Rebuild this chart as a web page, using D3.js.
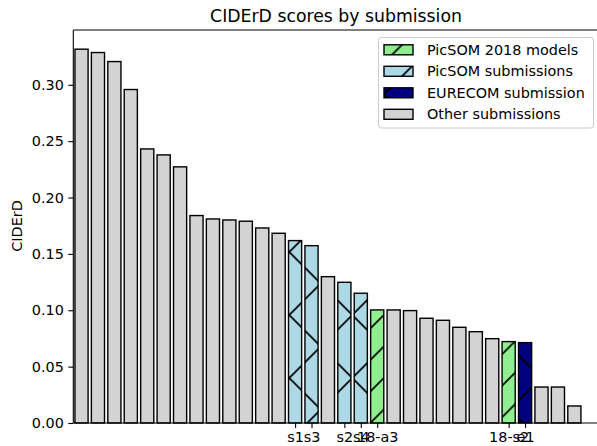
<!DOCTYPE html>
<html><head><meta charset="utf-8">
<script src="https://cdn.jsdelivr.net/npm/d3@7"></script>
<style>body{margin:0;background:#fff} text{font-family:"DejaVu Sans",sans-serif}</style>
</head><body><svg id="c" width="597" height="446"></svg>
<script>
// ---- data ----
const scores = [0.3316,0.3286,0.3206,0.2958,0.2431,0.2378,0.2272,0.1840,0.1810,0.1801,0.1790,0.1730,0.1683,
  0.1618,0.1573,0.1298,0.1248,0.1151,0.1003,0.1003,0.0997,0.0929,0.0911,0.0849,0.0810,0.0748,0.0722,0.0713,
  0.0319,0.0319,0.0151];
const groups = ["other","other","other","other","other","other","other","other","other","other","other","other","other",
  "picsom","picsom","other","picsom","picsom","picsom2018","other","other","other","other","other","other","other",
  "picsom2018","eurecom","other","other","other"];
const tickLabels = ["","","","","","","","","","","","","","s1","s3","","s2","s4","18-a3","","","","","","","","18-s2","e1","","",""];
const yTicks = [0,0.05,0.10,0.15,0.20,0.25,0.30];
const legendKeys = ["picsom2018","picsom","eurecom","other"];
const legendNames = ["PicSOM 2018 models","PicSOM submissions","EURECOM submission","Other submissions"];

// ---- styles ----
const colors = {picsom2018:"#90ee90", picsom:"#add8e6", eurecom:"#000080", other:"#d3d3d3"};
const hatch = {picsom2018:"url(#h2)", picsom:"url(#hx)", eurecom:"url(#hx)", other:null};

const svg = d3.select("#c");
const L = 73.3, R = 599, T = 30, B = 423;
const x = d3.scaleLinear().domain([-0.5, 31.5]).range([L, R]);
const y = d3.scaleLinear().domain([0, 0.3486]).range([B, T]);
const bw = (x(1) - x(0)) * 0.8;

const defs = svg.append("defs");
const px = defs.append("pattern").attr("id","hx").attr("patternUnits","userSpaceOnUse")
  .attr("x",37.3).attr("y",0).attr("width",63).attr("height",63);
px.append("path").attr("d","M0,63L63,0M-6,6L6,-6M57,69L69,57M0,0L63,63M-6,57L6,69M57,-6L69,6")
  .attr("stroke","#000").attr("stroke-width",1.7).attr("fill","none");
const p2 = defs.append("pattern").attr("id","h2").attr("patternUnits","userSpaceOnUse")
  .attr("x",5.8).attr("y",0).attr("width",31.5).attr("height",31.5);
p2.append("path").attr("d","M0,31.5L31.5,0M-5,5L5,-5M26.5,36.5L36.5,26.5")
  .attr("stroke","#000").attr("stroke-width",1.7).attr("fill","none");

// bars
const idx = d3.range(scores.length);
const bars = svg.append("g");
bars.selectAll("rect.f").data(idx).join("rect").attr("class","f")
  .attr("x", i => x(i) - bw/2).attr("y", i => y(scores[i]))
  .attr("width", bw).attr("height", i => y(0) - y(scores[i]))
  .attr("fill", i => colors[groups[i]]);
bars.selectAll("rect.h").data(idx.filter(i => hatch[groups[i]])).join("rect").attr("class","h")
  .attr("x", i => x(i) - bw/2).attr("y", i => y(scores[i]))
  .attr("width", bw).attr("height", i => y(0) - y(scores[i]))
  .attr("fill", i => hatch[groups[i]]);
bars.selectAll("rect.e").data(idx).join("rect").attr("class","e")
  .attr("x", i => x(i) - bw/2).attr("y", i => y(scores[i]))
  .attr("width", bw).attr("height", i => y(0) - y(scores[i]))
  .attr("fill", "none").attr("stroke","#000").attr("stroke-width",1.4);

// axes
const fs = 14.4;
const yAxis = svg.append("g").attr("transform",`translate(${L},0)`)
  .call(d3.axisLeft(y).tickValues(yTicks).tickFormat(d3.format(".2f")).tickSize(5).tickPadding(4.5));
const labeled = idx.filter(i => tickLabels[i] !== "");
const xAxis = svg.append("g").attr("transform",`translate(0,${B})`)
  .call(d3.axisBottom(x).tickValues(labeled).tickFormat(i => tickLabels[i]).tickSize(5).tickPadding(3.5));
[yAxis, xAxis].forEach(a => {
  a.selectAll("text").attr("font-size", fs).attr("fill","#000").style("font-family","DejaVu Sans");
  a.selectAll("line").attr("stroke","#000").attr("stroke-width",1.1);
  a.select(".domain").attr("stroke","#000").attr("stroke-width",1.1);
});
xAxis.select(".domain").attr("d", `M${L},0H${R}`);
yAxis.select(".domain").attr("d", `M0,${B}V${T}`);
svg.append("line").attr("x1",L).attr("x2",R).attr("y1",T).attr("y2",T).attr("stroke","#000").attr("stroke-width",1.1);

// labels
svg.append("text").attr("x",336).attr("y",22).attr("text-anchor","middle").attr("font-size",17.3)
  .text("CIDErD scores by submission");
svg.append("text").attr("transform","translate(22,226) rotate(-90)").attr("text-anchor","middle")
  .attr("font-size",fs).text("CIDErD");

// legend
const lg = svg.append("g");
lg.append("rect").attr("x",378.5).attr("y",37.5).attr("width",215).attr("height",90.5).attr("rx",3)
  .attr("fill","#fff").attr("fill-opacity",0.8).attr("stroke","#cccccc").attr("stroke-width",1);
legendKeys.forEach((k, j) => {
  const cy = 49.8 + j * 21.5;
  lg.append("rect").attr("x",384).attr("y",cy-5).attr("width",29).attr("height",10).attr("fill",colors[k]);
  if (hatch[k]) lg.append("rect").attr("x",384).attr("y",cy-5).attr("width",29).attr("height",10).attr("fill",hatch[k]);
  lg.append("rect").attr("x",384).attr("y",cy-5).attr("width",29).attr("height",10).attr("fill","none")
    .attr("stroke","#000").attr("stroke-width",1.4);
  lg.append("text").attr("x",427).attr("y",cy+5).attr("font-size",fs).text(legendNames[k === k ? j : j]);
});
</script></body></html>
